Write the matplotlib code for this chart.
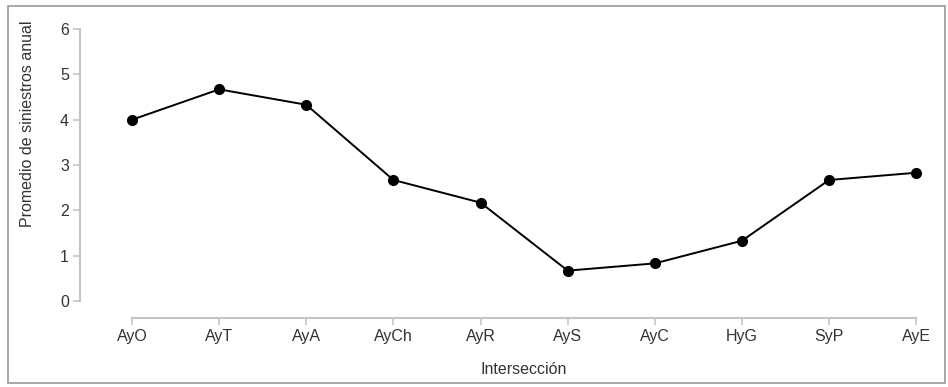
import matplotlib.pyplot as plt
from matplotlib.patches import Rectangle

plt.rcParams['font.family'] = ['Liberation Sans', 'DejaVu Sans']

intersecciones = ["AyO", "AyT", "AyA", "AyCh", "AyR", "AyS", "AyC", "HyG", "SyP", "AyE"]
promedio = [4.0, 4.67, 4.33, 2.67, 2.17, 0.67, 0.83, 1.33, 2.67, 2.83]
yticks = [0, 1, 2, 3, 4, 5, 6]

W, H = 948, 387
fig = plt.figure(figsize=(W / 100, H / 100), dpi=100)

# axes box in pixels: left 80, right ~938, bottom 318, top 20
ax = fig.add_axes([80 / W, (H - 318) / H, (938 - 80) / W, (318 - 20) / H])
x = list(range(len(intersecciones)))
ax.plot(x, promedio, color="black", lw=1.4, marker="o", ms=7, zorder=3)

ax.set_xlim(-0.597, 9.25)
ax.set_ylim(-0.375, 6.2)

gris = "#c4c4c4"
for s in ["top", "right"]:
    ax.spines[s].set_visible(False)
ax.spines["left"].set_bounds(0, 6)
ax.spines["bottom"].set_bounds(0, 9)
ax.spines["left"].set_color(gris)
ax.spines["bottom"].set_color(gris)
ax.spines["left"].set_linewidth(1.5)
ax.spines["bottom"].set_linewidth(1.5)

ax.set_xticks(x)
ax.set_xticklabels(intersecciones)
ax.set_yticks(yticks)
ax.tick_params(axis="both", colors=gris, labelcolor="#333333", labelsize=11.5,
               length=5, width=1.2, pad=3)

ax.set_xlabel("Intersección", fontsize=11.5, color="#333333")
ax.xaxis.set_label_coords((524 - 80) / (938 - 80), -(370 - 318) / (318 - 20))
ax.xaxis.label.set_va("center")
fig.text(28 / W, 1 - 124 / H, "Promedio de siniestros anual", rotation=90,
         ha="center", va="center", fontsize=11.5, color="#333333")

# marco gris alrededor de la figura
fig.patches.append(Rectangle((8 / W, 1 - 383 / H), (945 - 8) / W, (383 - 6) / H,
                             transform=fig.transFigure, fill=False,
                             edgecolor="#9a9a9a", lw=1.2))

fig.savefig("out.png", dpi=100)
